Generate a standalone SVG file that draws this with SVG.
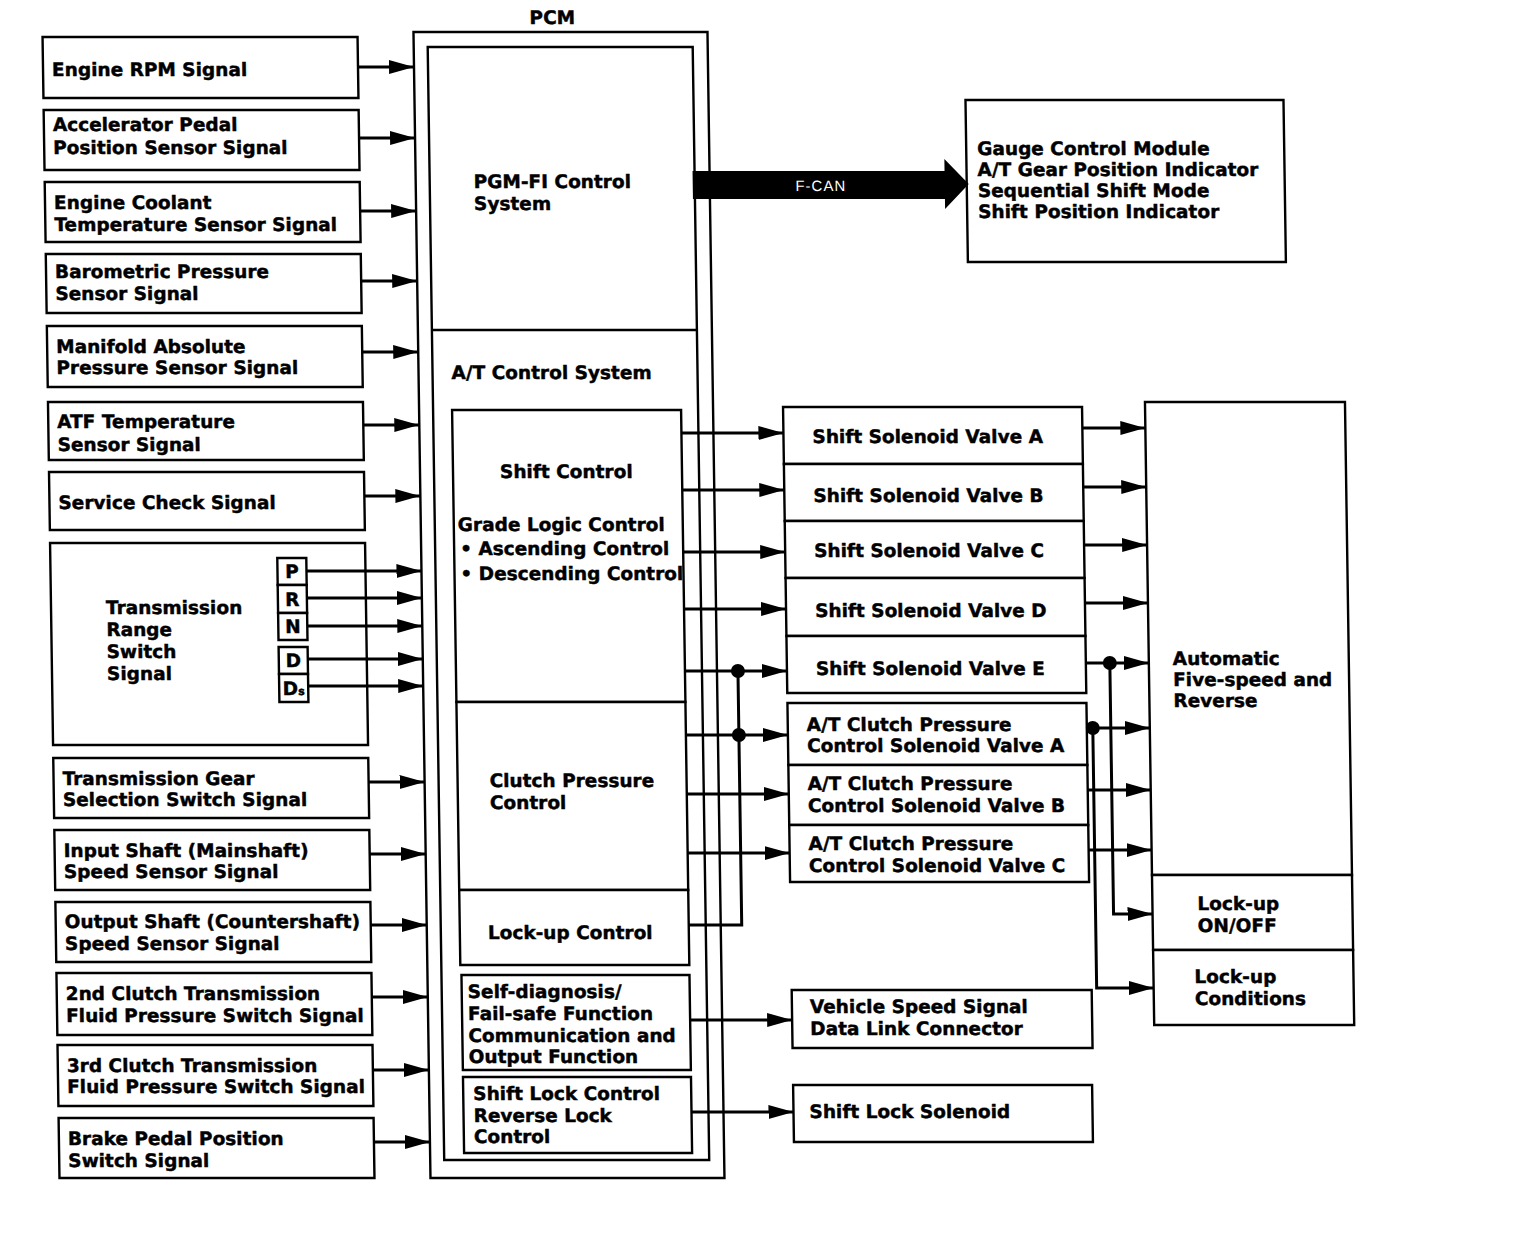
<svg xmlns="http://www.w3.org/2000/svg" width="1536" height="1238" viewBox="0 0 1536 1238">
<style>
.b{fill:#fff;stroke:#000;stroke-width:2.4}
.t{font-family:"DejaVu Sans","Liberation Sans",sans-serif;font-weight:bold;font-size:18.5px;fill:#000;stroke:#000;stroke-width:0.45}
.c{fill:none;stroke:#000;stroke-width:3}
.a{marker-end:url(#ah)}
.dot{fill:#000}
</style>
<defs>
<marker id="ah" viewBox="0 0 25 14" markerWidth="25" markerHeight="14" refX="25" refY="7" orient="auto" markerUnits="userSpaceOnUse"><path d="M0,0L25,7L0,14z" fill="#000"/></marker>
</defs>
<rect width="1536" height="1238" fill="#fff"/>
<g transform="skewX(0.85)">
<g id="in1"><rect class="b" x="42" y="37" width="315" height="61"/><text class="t" x="51" y="76">Engine RPM Signal</text></g>
<g id="in2"><rect class="b" x="42" y="110" width="315" height="60"/><text class="t" x="51" y="131">Accelerator Pedal</text><text class="t" x="51" y="154">Position Sensor Signal</text></g>
<g id="in3"><rect class="b" x="42" y="182" width="315" height="60"/><text class="t" x="51" y="209">Engine Coolant</text><text class="t" x="51" y="231">Temperature Sensor Signal</text></g>
<g id="in4"><rect class="b" x="42" y="254" width="315" height="59"/><text class="t" x="51" y="278">Barometric Pressure</text><text class="t" x="51" y="300">Sensor Signal</text></g>
<g id="in5"><rect class="b" x="42" y="326" width="315" height="61"/><text class="t" x="51" y="353">Manifold Absolute</text><text class="t" x="51" y="374">Pressure Sensor Signal</text></g>
<g id="in6"><rect class="b" x="42" y="402" width="315" height="58"/><text class="t" x="51" y="428">ATF Temperature</text><text class="t" x="51" y="451">Sensor Signal</text></g>
<g id="in7"><rect class="b" x="42" y="472" width="315" height="58"/><text class="t" x="51" y="509">Service Check Signal</text></g>
<g id="in8"><rect class="b" x="42" y="543" width="315" height="202"/>
<text class="t" x="97" y="614">Transmission</text><text class="t" x="97" y="636">Range</text><text class="t" x="97" y="658">Switch</text><text class="t" x="97" y="680">Signal</text>
<rect class="b" x="269" y="558" width="29" height="27"/><rect class="b" x="269" y="585" width="29" height="28"/><rect class="b" x="269" y="613" width="29" height="27"/>
<rect class="b" x="269" y="647" width="29" height="27"/><rect class="b" x="269" y="674" width="29" height="28"/>
<text class="t" x="283.5" y="578" text-anchor="middle" font-size="17">P</text>
<text class="t" x="283.5" y="606" text-anchor="middle" font-size="17">R</text>
<text class="t" x="283.5" y="633" text-anchor="middle" font-size="17">N</text>
<text class="t" x="283.5" y="667" text-anchor="middle" font-size="17">D</text>
<text class="t" x="283.5" y="695" text-anchor="middle" font-size="16">D<tspan font-size="11">s</tspan></text>
</g>
<g id="in9"><rect class="b" x="42" y="758" width="315" height="60"/><text class="t" x="51" y="785">Transmission Gear</text><text class="t" x="51" y="806">Selection Switch Signal</text></g>
<g id="in10"><rect class="b" x="42" y="830" width="315" height="60"/><text class="t" x="51" y="857">Input Shaft (Mainshaft)</text><text class="t" x="51" y="878">Speed Sensor Signal</text></g>
<g id="in11"><rect class="b" x="42" y="902" width="315" height="60"/><text class="t" x="51" y="928">Output Shaft (Countershaft)</text><text class="t" x="51" y="950">Speed Sensor Signal</text></g>
<g id="in12"><rect class="b" x="42" y="973" width="315" height="62"/><text class="t" x="51" y="1000">2nd Clutch Transmission</text><text class="t" x="51" y="1022">Fluid Pressure Switch Signal</text></g>
<g id="in13"><rect class="b" x="42" y="1045" width="315" height="61"/><text class="t" x="51" y="1072">3rd Clutch Transmission</text><text class="t" x="51" y="1093">Fluid Pressure Switch Signal</text></g>
<g id="in14"><rect class="b" x="42" y="1118" width="315" height="60"/><text class="t" x="51" y="1145">Brake Pedal Position</text><text class="t" x="51" y="1167">Switch Signal</text></g>

<g id="pcm">
<rect class="b" x="413" y="32" width="294" height="1146"/>
<rect class="b" x="427" y="47" width="265" height="1113"/>
<text class="t" x="552" y="24" text-anchor="middle" font-size="19">PCM</text>
</g>
<g id="pgmfi"><line x1="427" y1="330" x2="692" y2="330" stroke="#000" stroke-width="2.4"/><text class="t" x="471" y="188">PGM-FI Control</text><text class="t" x="471" y="210">System</text></g>
<g id="atcontrol"><text class="t" x="446" y="379">A/T Control System</text></g>
<g id="shiftctl"><rect class="b" x="446" y="410" width="229" height="292"/>
<text class="t" x="493" y="478">Shift Control</text>
<text class="t" x="450" y="531">Grade Logic Control</text>
<text class="t" x="452" y="555">• Ascending Control</text>
<text class="t" x="452" y="580">• Descending Control</text></g>
<g id="clutchctl"><rect class="b" x="446" y="702" width="229" height="188"/><text class="t" x="478" y="787">Clutch Pressure</text><text class="t" x="478" y="809">Control</text></g>
<g id="lockctl"><rect class="b" x="446" y="890" width="229" height="75"/><text class="t" x="474" y="939">Lock-up Control</text></g>
<g id="selfdiag"><rect class="b" x="447" y="975" width="228" height="95"/>
<text class="t" x="453" y="998">Self-diagnosis/</text><text class="t" x="453" y="1020">Fail-safe Function</text><text class="t" x="453" y="1042">Communication and</text><text class="t" x="453" y="1063">Output Function</text></g>
<g id="shiftlockctl"><rect class="b" x="447" y="1077" width="228" height="76"/>
<text class="t" x="457" y="1100">Shift Lock Control</text><text class="t" x="457" y="1122">Reverse Lock</text><text class="t" x="457" y="1143">Control</text></g>

<g id="gauge"><rect class="b" x="964" y="100" width="318" height="162"/>
<text class="t" x="975" y="155">Gauge Control Module</text><text class="t" x="975" y="176">A/T Gear Position Indicator</text><text class="t" x="975" y="197">Sequential Shift Mode</text><text class="t" x="975" y="218">Shift Position Indicator</text></g>

<g id="ssa"><rect class="b" x="777" y="407" width="299" height="57"/><text class="t" x="806" y="443">Shift Solenoid Valve A</text></g>
<g id="ssb"><rect class="b" x="777" y="464" width="299" height="57"/><text class="t" x="806" y="502">Shift Solenoid Valve B</text></g>
<g id="ssc"><rect class="b" x="777" y="521" width="299" height="57"/><text class="t" x="806" y="557">Shift Solenoid Valve C</text></g>
<g id="ssd"><rect class="b" x="777" y="578" width="299" height="58"/><text class="t" x="806" y="617">Shift Solenoid Valve D</text></g>
<g id="sse"><rect class="b" x="777" y="636" width="299" height="57"/><text class="t" x="806" y="675">Shift Solenoid Valve E</text></g>
<g id="cpa"><rect class="b" x="777" y="703" width="299" height="62"/><text class="t" x="796" y="731">A/T Clutch Pressure</text><text class="t" x="796" y="752">Control Solenoid Valve A</text></g>
<g id="cpb"><rect class="b" x="777" y="765" width="299" height="60"/><text class="t" x="796" y="790">A/T Clutch Pressure</text><text class="t" x="796" y="812">Control Solenoid Valve B</text></g>
<g id="cpc"><rect class="b" x="777" y="825" width="299" height="57"/><text class="t" x="796" y="850">A/T Clutch Pressure</text><text class="t" x="796" y="872">Control Solenoid Valve C</text></g>
<g id="vss"><rect class="b" x="777" y="990" width="300" height="58"/><text class="t" x="795" y="1013">Vehicle Speed Signal</text><text class="t" x="795" y="1035">Data Link Connector</text></g>
<g id="sls"><rect class="b" x="777" y="1085" width="299" height="57"/><text class="t" x="793" y="1118">Shift Lock Solenoid</text></g>

<g id="trans"><rect class="b" x="1139" y="402" width="200" height="473"/><text class="t" x="1163" y="665">Automatic</text><text class="t" x="1163" y="686">Five-speed and</text><text class="t" x="1163" y="707">Reverse</text></g>
<g id="lockonoff"><rect class="b" x="1139" y="875" width="200" height="75"/><text class="t" x="1184" y="910">Lock-up</text><text class="t" x="1184" y="932">ON/OFF</text></g>
<g id="lockcond"><rect class="b" x="1139" y="950" width="200" height="75"/><text class="t" x="1180" y="983">Lock-up</text><text class="t" x="1180" y="1005">Conditions</text></g>

<g id="connectors">
<path class="c a" d="M357,67H413"/>
<path class="c a" d="M357,138H413"/>
<path class="c a" d="M357,211H413"/>
<path class="c a" d="M357,281H413"/>
<path class="c a" d="M357,352H413"/>
<path class="c a" d="M357,425H413"/>
<path class="c a" d="M357,496H413"/>
<path class="c a" d="M298,571H413"/>
<path class="c a" d="M298,598H413"/>
<path class="c a" d="M298,626H413"/>
<path class="c a" d="M298,659H413"/>
<path class="c a" d="M298,686H413"/>
<path class="c a" d="M357,782H413"/>
<path class="c a" d="M357,854H413"/>
<path class="c a" d="M357,925H413"/>
<path class="c a" d="M357,997H413"/>
<path class="c a" d="M357,1070H413"/>
<path class="c a" d="M357,1142H413"/>
<polygon points="690,171 942,171 942,159 966,184 942,209 942,199 690,199" fill="#000"/>
<text x="818" y="191" text-anchor="middle" font-family="'Liberation Sans',Arial,sans-serif" font-size="15" fill="#fff" letter-spacing="1">F-CAN</text>
<path class="c a" d="M675,433H777"/>
<path class="c a" d="M675,490H777"/>
<path class="c a" d="M675,552H777"/>
<path class="c a" d="M675,609H777"/>
<path class="c a" d="M675,671H777"/>
<path class="c a" d="M675,735H777"/>
<path class="c a" d="M675,794H777"/>
<path class="c a" d="M675,853H777"/>
<path class="c" d="M675,925H728V671"/>
<circle class="dot" cx="728" cy="671" r="7"/>
<circle class="dot" cx="728" cy="735" r="7"/>
<path class="c a" d="M675,1020H777"/>
<path class="c a" d="M675,1112H777"/>
<path class="c a" d="M1076,428H1139"/>
<path class="c a" d="M1076,487H1139"/>
<path class="c a" d="M1076,545H1139"/>
<path class="c a" d="M1076,603H1139"/>
<path class="c a" d="M1076,663H1139"/>
<path class="c a" d="M1076,728H1139"/>
<path class="c a" d="M1076,790H1139"/>
<path class="c a" d="M1076,850H1139"/>
<path class="c a" d="M1100,663V914H1139"/>
<path class="c a" d="M1082,728V988H1139"/>
<circle class="dot" cx="1100" cy="663" r="7"/>
<circle class="dot" cx="1082" cy="728" r="7"/>
</g>
</g>
</svg>
